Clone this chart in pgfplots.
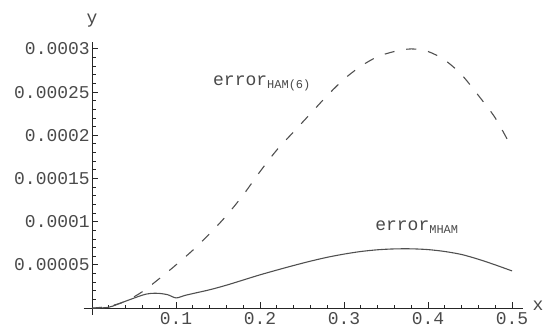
\documentclass[border=0pt]{standalone}
\usepackage{pgfplots}
\pgfplotsset{compat=1.18}
\usepackage{fontspec}
\setmainfont{Liberation Mono}
\setmonofont{Liberation Mono}
\definecolor{lbl}{HTML}{4A4A4A}
\definecolor{crv}{HTML}{505050}

\pgfplotstableread{
x y
0.00 0
0.02 0.000002
0.04 0.000008
0.06 0.000019
0.08 0.000034
0.10 0.000050
0.12 0.000067
0.14 0.000086
0.16 0.000107
0.18 0.000131
0.20 0.000158
0.22 0.000183
0.24 0.000204
0.26 0.000225
0.28 0.000246
0.30 0.000265
0.32 0.000280
0.34 0.000291
0.36 0.000297
0.38 0.000300
0.40 0.000297
0.42 0.000287
0.44 0.000270
0.46 0.000246
0.48 0.000220
0.50 0.000185
}\hamsix

\pgfplotstableread{
x y
0.00 0
0.02 0.000001
0.04 0.000008
0.06 0.0000150
0.07 0.0000170
0.08 0.0000170
0.09 0.0000155
0.10 0.0000118
0.11 0.0000145
0.12 0.0000168
0.14 0.0000212
0.16 0.0000265
0.18 0.0000325
0.20 0.0000385
0.22 0.0000440
0.24 0.0000493
0.26 0.0000543
0.28 0.0000588
0.30 0.0000625
0.32 0.0000655
0.34 0.0000675
0.36 0.0000685
0.38 0.0000686
0.40 0.0000677
0.42 0.0000655
0.44 0.0000620
0.46 0.0000565
0.48 0.0000500
0.50 0.0000430
}\mham

\begin{document}
\begin{tikzpicture}[x=1pt,y=1pt]
\path (0,0) rectangle (547,327);
\begin{axis}[
  at={(83.6pt,12pt)}, anchor=south west,
  scale only axis, width=439.4pt, height=273pt,
  xmin=-0.01, xmax=0.513, ymin=-0.000008, ymax=0.000308,
  clip=false,
  axis lines=middle,
  axis line style={-, black!85, line width=0.9pt},
  xtick={0.1,0.2,0.3,0.4,0.5},
  xticklabels={0.1,0.2,0.3,0.4,0.5},
  minor xtick={0.02,0.04,0.06,0.08,0.12,0.14,0.16,0.18,0.22,0.24,0.26,0.28,0.32,0.34,0.36,0.38,0.42,0.44,0.46,0.48},
  ytick={0.00005,0.0001,0.00015,0.0002,0.00025,0.0003},
  yticklabels={0.00005,0.0001,0.00015,0.0002,0.00025,0.0003},
  minor ytick={0.00001,0.00002,0.00003,0.00004,0.00006,0.00007,0.00008,0.00009,0.00011,0.00012,0.00013,0.00014,0.00016,0.00017,0.00018,0.00019,0.00021,0.00022,0.00023,0.00024,0.00026,0.00027,0.00028,0.00029},
  scaled y ticks=false,
  tick align=inside,
  major tick length=6pt, minor tick length=3.5pt,
  tick style={black!85, line width=0.9pt},
  tick label style={font=\fontsize{18}{18}\selectfont, text=lbl},
  xticklabel style={inner sep=1pt, yshift=-3pt},
  yticklabel style={inner sep=1pt, xshift=-1pt},
]
\addplot[crv, line width=1.1pt, smooth, dash pattern=on 10pt off 12pt] table[x=x,y=y] {\hamsix};
\addplot[crv, line width=1.1pt, smooth, tension=0.5] table[x=x,y=y] {\mham};
\node[text=lbl, font=\fontsize{18}{18}\selectfont] at (axis cs:0,0.000333) {y};
\node[text=lbl, font=\fontsize{18}{18}\selectfont] at (axis cs:0.531,0.0000025) {x};
\node[anchor=west, text=lbl, inner sep=0pt, font=\fontsize{18}{18}\selectfont] at (axis cs:0.144,0.00026) {error\raisebox{-3pt}{\fontsize{12}{12}\selectfont HAM(6)}};
\node[anchor=west, text=lbl, inner sep=0pt, font=\fontsize{18}{18}\selectfont] at (axis cs:0.337,0.0000938) {error\raisebox{-3pt}{\fontsize{12}{12}\selectfont MHAM}};
\end{axis}
\end{tikzpicture}
\end{document}
